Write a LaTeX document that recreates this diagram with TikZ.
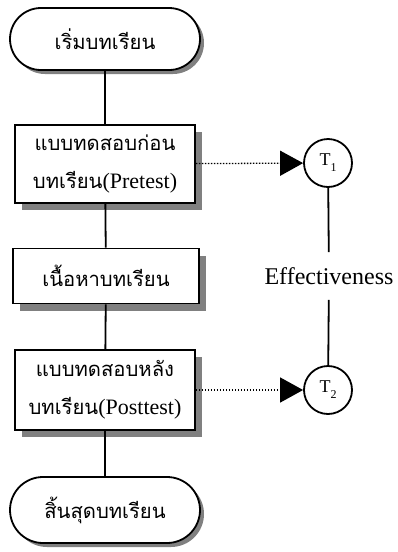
\documentclass[tikz,border=0pt]{standalone}
\usepackage{fontspec}
\setmainfont{Liberation Serif}
\newfontfamily\thaifont[Script=Thai,Scale=0.92]{Loma}
\usetikzlibrary{shapes.misc,shadows,arrows.meta}
\newcommand\tht[1]{{\thaifont #1}}
\newcommand\sub[1]{\raisebox{-6pt}{\fontsize{12}{12}\selectfont #1}}

\begin{document}
\begin{tikzpicture}[x=1pt,y=-1pt,line width=1.8pt,font=\fontsize{22}{38}\selectfont,
  box/.style={draw,fill=white,align=center,inner sep=0pt,minimum width=180pt,
    drop shadow={shadow xshift=7pt,shadow yshift=-7pt,fill=gray,opacity=1}},
  term/.style={draw,rounded rectangle,fill=white,inner sep=0pt,minimum width=190pt,
    drop shadow={shadow xshift=4pt,shadow yshift=-4pt,fill=gray,opacity=1}},
  test/.style={draw,circle,fill=white,minimum size=48pt,inner sep=0pt,font=\fontsize{18}{18}\selectfont},
  link/.style={line width=1.3pt,dash pattern=on 1.5pt off 1.5pt,-{Triangle[length=23pt,width=25pt]}}]
\useasboundingbox (0,0) rectangle (397,552);
\node[term,minimum height=62pt] (s) at (105,39) {\tht{เริ่มบทเรียน}};
\node[box,minimum height=78pt] (pre) at (105,164) {\tht{แบบทดสอบก่อน}\\\tht{บทเรียน}(Pretest)};
\node[box,minimum width=186pt,minimum height=55pt] (body) at (106,276) {\tht{เนื้อหาบทเรียน}};
\node[box,minimum height=80pt] (post) at (105,390) {\tht{แบบทดสอบหลัง}\\\tht{บทเรียน}(Posttest)};
\node[term,minimum height=66pt] (e) at (105,510) {\tht{สิ้นสุดบทเรียน}};
\node[test] (t1) at (328,163) {T\sub{1}};
\node[test] (t2) at (328,390) {T\sub{2}};
\node[minimum height=46pt,inner xsep=0pt,font=\fontsize{24}{24}\selectfont] (eff) at (329,276) {Effectiveness};
\draw (s) -- (pre) (pre) -- (body) (body) -- (post) (post) -- (e);
\draw (t1) -- (eff) (eff) -- (t2);
\draw[link] (pre) -- (t1);
\draw[link] (post) -- (t2);
\end{tikzpicture}
\end{document}
